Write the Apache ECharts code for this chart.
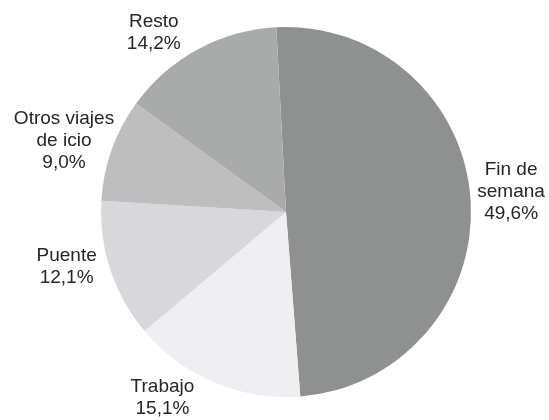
<!DOCTYPE html>
<html>
<head>
<meta charset="utf-8">
<script src="https://cdn.jsdelivr.net/npm/echarts@6/dist/echarts.min.js"></script>
<style>
  html, body { margin: 0; padding: 0; background: #ffffff; }
  #chart { width: 549px; height: 420px; }
</style>
</head>
<body>
<div id="chart"></div>
<script>
// Viajes por motivo (%)
var categories = ['Fin de\nsemana', 'Trabajo', 'Puente', 'Otros viajes\nde icio', 'Resto'];
var values = [49.6, 15.1, 12.1, 9.0, 14.2];
var sliceColors = ['#8e918f', '#eeeef3', '#d8d8dc', '#bebebf', '#a9abaa'];

// Pie geometry
var CX = 286, CY = 212, R = 185;
var START_OFFSET = -3; // degrees clockwise from 12 o'clock

// Label placement: angular nudge from slice middle and distance from centre
var labelNudge = [-1.4, 10.9, 4.4, -2.0, -7.8];
var labelDist = [226, 223, 226, 233, 223];

var total = values.reduce(function (a, b) { return a + b; }, 0);

function midAngle(i) {
  var cum = 0;
  for (var k = 0; k < i; k++) cum += values[k];
  return START_OFFSET + 360 * (cum + values[i] / 2) / total;
}

function fmtPct(v) {
  return v.toFixed(1).replace('.', ',') + '%';
}

var chart = echarts.init(document.getElementById('chart'), null, { renderer: 'canvas' });

chart.setOption({
  backgroundColor: '#ffffff',
  animation: false,
  series: [{
    type: 'pie',
    center: [CX, CY],
    radius: [0, R],
    startAngle: 90 - START_OFFSET,
    clockwise: true,
    avoidLabelOverlap: false,
    silent: true,
    itemStyle: { borderWidth: 0 },
    label: {
      show: true,
      position: 'outside',
      fontFamily: '"Liberation Sans", Arial, sans-serif',
      fontSize: 19,
      lineHeight: 22,
      color: '#262626',
      formatter: function (p) {
        return p.name + '\n' + fmtPct(p.value);
      }
    },
    labelLine: { show: false },
    labelLayout: function (params) {
      var i = params.dataIndex;
      var a = (midAngle(i) + labelNudge[i]) * Math.PI / 180;
      return {
        x: CX + labelDist[i] * Math.sin(a),
        y: CY - labelDist[i] * Math.cos(a),
        align: 'center',
        verticalAlign: 'middle'
      };
    },
    data: categories.map(function (name, i) {
      return { name: name, value: values[i], itemStyle: { color: sliceColors[i] } };
    })
  }]
});
</script>
</body>
</html>
